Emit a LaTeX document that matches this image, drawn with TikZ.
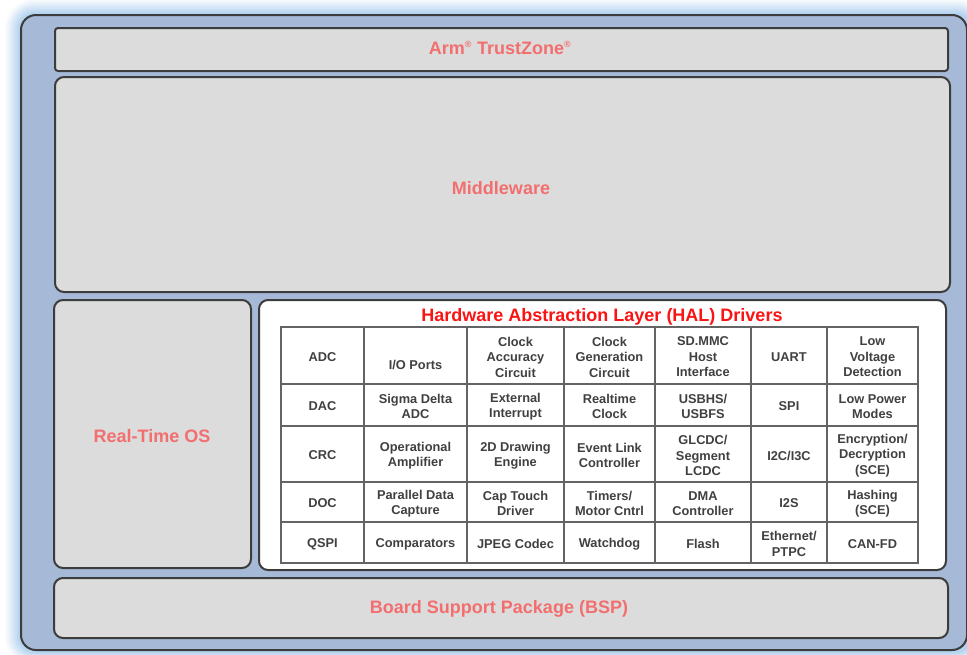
\documentclass[tikz,border=0pt]{standalone}
\usepackage{fontspec}
\setmainfont{Liberation Sans}
\definecolor{glow}{RGB}{170,205,240}
\definecolor{frameblue}{RGB}{166,186,216}
\definecolor{boxgray}{RGB}{220,220,220}
\definecolor{edgegray}{RGB}{60,60,60}
\definecolor{salmon}{RGB}{243,110,110}
\definecolor{halred}{RGB}{250,20,20}
\definecolor{celltext}{RGB}{64,64,64}
\definecolor{cellline}{RGB}{100,100,100}
\tikzset{
  layerbox/.style={draw=edgegray, line width=2pt, fill=boxgray, rounded corners=9pt,
    inner sep=0pt, outer sep=0pt},
  layertext/.style={text=salmon, font=\fontsize{18}{20}\selectfont\bfseries},
  cellbox/.style={draw=cellline, line width=1.1pt, fill=white, inner sep=0pt, outer sep=0pt},
  celltxt/.style={align=center, text=celltext, inner sep=0pt, font=\fontsize{12.8}{15.5}\selectfont\bfseries},
}
\newcommand{\hcell}[7][0]{% [extra shift], name, x0, x1, y0, y1, text
  \node[cellbox, minimum width={#4-#3}, minimum height={#6-#5}] (#2) at ({(#3+#4)/2},{(#5+#6)/2}) {};
  \node[celltxt, yshift={-1.5pt-#1pt}] (#2t) at (#2.center) {#7};}
\begin{document}
\begin{tikzpicture}[x=1pt,y=-1pt]
\useasboundingbox (0,0) rectangle (967,654);
\fill[white] (0,0) rectangle (967,654);
% glow
\foreach \d/\o in {16/0.08,14/0.1,12/0.13,10/0.16,8/0.2,6/0.26,4/0.35,2/0.5}{
  \fill[glow, opacity=\o, rounded corners={14pt+\d pt}] (21-\d,15-\d) rectangle (970+\d,650+\d);
}
% outer frame
\node[draw=edgegray, line width=2pt, fill=frameblue, rounded corners=15pt, inner sep=0pt,
  minimum width=946pt, minimum height=635pt] (frame) at (494,332.5) {};
% layers
\node[layerbox, rounded corners=3pt, minimum width=893pt, minimum height=43pt] (tz) at (501.5,49.5) {};
\node[layertext] (tzt) at (500,48) {Arm\textsuperscript{\fontsize{9}{9}\selectfont ®} TrustZone\textsuperscript{\fontsize{9}{9}\selectfont ®}};
\node[layerbox, minimum width=895pt, minimum height=215pt] (mw) at (502.5,184.5) {};
\node[layertext] (mwt) at (501,188) {Middleware};
\node[layerbox, minimum width=197pt, minimum height=268pt] (rtos) at (152.5,434) {};
\node[layertext] (rtost) at (152,436) {Real-Time OS};
\node[layerbox, fill=white, minimum width=687pt, minimum height=270pt] (hal) at (602.5,435) {};
\node[text=halred, font=\fontsize{18}{20}\selectfont\bfseries] (halt) at (602,316.5) {Hardware Abstraction Layer (HAL) Drivers};
\node[layerbox, minimum width=894pt, minimum height=60pt] (bsp) at (501,608) {};
\node[layertext] (bspt) at (499,609) {Board Support Package (BSP)};
% table: x 281,364,467,564,655,751,827,918 ; y 327,384,426,482,522,563
\hcell{c11}{281}{364}{327}{384}{ADC}
\hcell[8]{c12}{364}{467}{327}{384}{I/O Ports}
\hcell{c13}{467}{564}{327}{384}{Clock\\Accuracy\\Circuit}
\hcell{c14}{564}{655}{327}{384}{Clock\\Generation\\Circuit}
\hcell{c15}{655}{751}{327}{384}{SD.MMC\\Host\\Interface}
\hcell{c16}{751}{827}{327}{384}{UART}
\hcell{c17}{827}{918}{327}{384}{Low\\Voltage\\Detection}
\hcell{c21}{281}{364}{384}{426}{DAC}
\hcell{c22}{364}{467}{384}{426}{Sigma Delta\\ADC}
\hcell{c23}{467}{564}{384}{426}{External\\Interrupt}
\hcell{c24}{564}{655}{384}{426}{Realtime\\Clock}
\hcell{c25}{655}{751}{384}{426}{USBHS/\\USBFS}
\hcell{c26}{751}{827}{384}{426}{SPI}
\hcell{c27}{827}{918}{384}{426}{Low Power\\Modes}
\hcell{c31}{281}{364}{426}{482}{CRC}
\hcell{c32}{364}{467}{426}{482}{Operational\\Amplifier}
\hcell{c33}{467}{564}{426}{482}{2D Drawing\\Engine}
\hcell{c34}{564}{655}{426}{482}{Event Link\\Controller}
\hcell{c35}{655}{751}{426}{482}{GLCDC/\\Segment\\LCDC}
\hcell{c36}{751}{827}{426}{482}{I2C/I3C}
\hcell{c37}{827}{918}{426}{482}{Encryption/\\Decryption\\(SCE)}
\hcell{c41}{281}{364}{482}{522}{DOC}
\hcell{c42}{364}{467}{482}{522}{Parallel Data\\Capture}
\hcell{c43}{467}{564}{482}{522}{Cap Touch\\Driver}
\hcell{c44}{564}{655}{482}{522}{Timers/\\Motor Cntrl}
\hcell{c45}{655}{751}{482}{522}{DMA\\Controller}
\hcell{c46}{751}{827}{482}{522}{I2S}
\hcell{c47}{827}{918}{482}{522}{Hashing\\(SCE)}
\hcell{c51}{281}{364}{522}{563}{QSPI}
\hcell{c52}{364}{467}{522}{563}{Comparators}
\hcell{c53}{467}{564}{522}{563}{JPEG Codec}
\hcell{c54}{564}{655}{522}{563}{Watchdog}
\hcell{c55}{655}{751}{522}{563}{Flash}
\hcell{c56}{751}{827}{522}{563}{Ethernet/\\PTPC}
\hcell{c57}{827}{918}{522}{563}{CAN-FD}
\end{tikzpicture}
\end{document}
